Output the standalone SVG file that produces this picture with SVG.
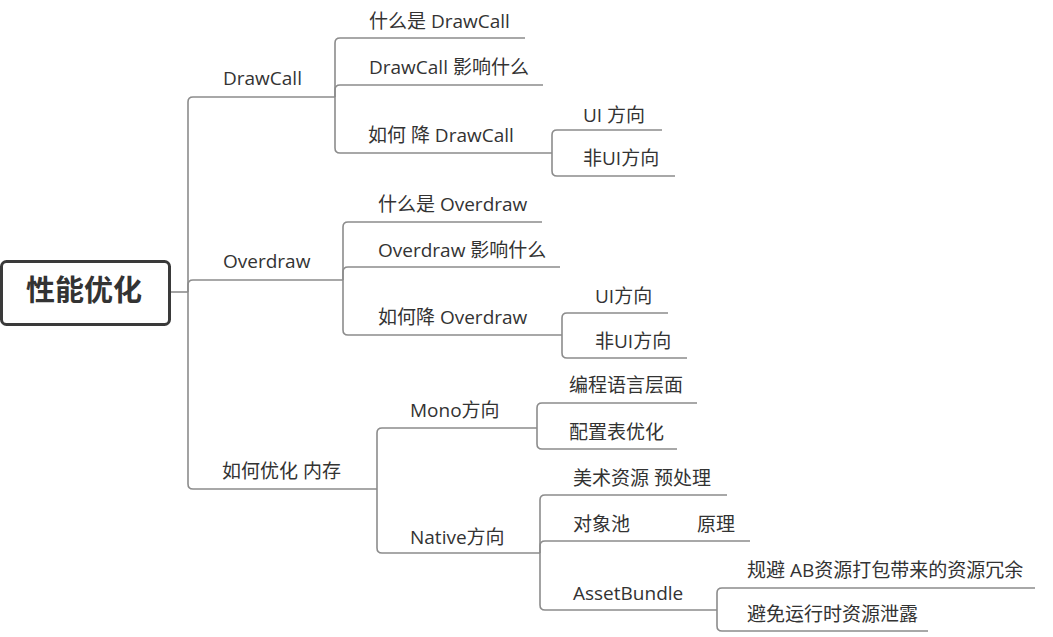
<svg xmlns="http://www.w3.org/2000/svg" width="1053" height="637" viewBox="0 0 1053 637">
<style>
.ln{fill:none;stroke:#8c8c8c;stroke-width:1.6}
.t{font-family:"Open Sans","Noto Sans CJK SC",sans-serif;font-size:19px;fill:#333}
.root{font-family:"Noto Sans CJK SC",sans-serif;font-size:29px;font-weight:bold;fill:#333}
</style>
<rect width="1053" height="637" fill="#fff"/>
<g id="connectors">
<path class="ln" d="M170,292 H188"/>
<path class="ln" d="M188,292 V102 Q188,97 193,97 H335"/>
<path class="ln" d="M188,292 V285 Q188,280 193,280 H343"/>
<path class="ln" d="M188,292 V484 Q188,489 193,489 H377"/>
<path class="ln" d="M335,97 V43 Q335,38 340,38 H525"/>
<path class="ln" d="M335,97 V90 Q335,85 340,85 H543"/>
<path class="ln" d="M335,97 V148 Q335,153 340,153 H552"/>
<path class="ln" d="M552,153 V135 Q552,130 557,130 H662"/>
<path class="ln" d="M552,153 V171 Q552,176 557,176 H675"/>
<path class="ln" d="M343,280 V227 Q343,222 348,222 H542"/>
<path class="ln" d="M343,280 V272 Q343,267 348,267 H560"/>
<path class="ln" d="M343,280 V330 Q343,335 348,335 H562"/>
<path class="ln" d="M562,335 V318 Q562,313 567,313 H668"/>
<path class="ln" d="M562,335 V353 Q562,358 567,358 H687"/>
<path class="ln" d="M377,489 V433 Q377,428 382,428 H537"/>
<path class="ln" d="M377,489 V548 Q377,553 382,553 H540"/>
<path class="ln" d="M537,428 V408 Q537,403 542,403 H697"/>
<path class="ln" d="M537,428 V444 Q537,449 542,449 H677"/>
<path class="ln" d="M540,553 V500 Q540,495 545,495 H727"/>
<path class="ln" d="M540,553 V546 Q540,541 545,541 H750"/>
<path class="ln" d="M540,553 V605 Q540,610 545,610 H717"/>
<path class="ln" d="M717,610 V593 Q717,588 722,588 H1035"/>
<path class="ln" d="M717,610 V626 Q717,631 722,631 H928"/>
</g>
<g id="root">
<rect x="1.5" y="261.5" width="168" height="63" rx="5" fill="#fff" stroke="#3a3a3a" stroke-width="3"/>
<text class="root" x="84" y="301" text-anchor="middle">性能优化</text>
</g>
<g id="n-drawcall"><text class="t" x="223" y="85">DrawCall</text></g>
<g id="n-dc-what"><text class="t" x="369" y="28">什么是 DrawCall</text></g>
<g id="n-dc-effect"><text class="t" x="369" y="74">DrawCall 影响什么</text></g>
<g id="n-dc-how"><text class="t" x="368" y="142">如何 降 DrawCall</text></g>
<g id="n-dc-ui"><text class="t" x="583" y="122">UI 方向</text></g>
<g id="n-dc-nonui"><text class="t" x="583" y="165">非UI方向</text></g>
<g id="n-overdraw"><text class="t" x="223" y="268">Overdraw</text></g>
<g id="n-od-what"><text class="t" x="378" y="211">什么是 Overdraw</text></g>
<g id="n-od-effect"><text class="t" x="378" y="257">Overdraw 影响什么</text></g>
<g id="n-od-how"><text class="t" x="378" y="324">如何降 Overdraw</text></g>
<g id="n-od-ui"><text class="t" x="595" y="303">UI方向</text></g>
<g id="n-od-nonui"><text class="t" x="595" y="348">非UI方向</text></g>
<g id="n-memory"><text class="t" x="222" y="478">如何优化 内存</text></g>
<g id="n-mono"><text class="t" x="410" y="417">Mono方向</text></g>
<g id="n-mono-lang"><text class="t" x="569" y="392">编程语言层面</text></g>
<g id="n-mono-cfg"><text class="t" x="569" y="439">配置表优化</text></g>
<g id="n-native"><text class="t" x="410" y="544">Native方向</text></g>
<g id="n-native-art"><text class="t" x="573" y="485">美术资源 预处理</text></g>
<g id="n-native-pool"><text class="t" y="531"><tspan x="573">对象池</tspan><tspan x="697">原理</tspan></text></g>
<g id="n-ab"><text class="t" x="573" y="600">AssetBundle</text></g>
<g id="n-ab-redund"><text class="t" x="747" y="577">规避 AB资源打包带来的资源冗余</text></g>
<g id="n-ab-leak"><text class="t" x="747" y="621">避免运行时资源泄露</text></g>
</svg>
